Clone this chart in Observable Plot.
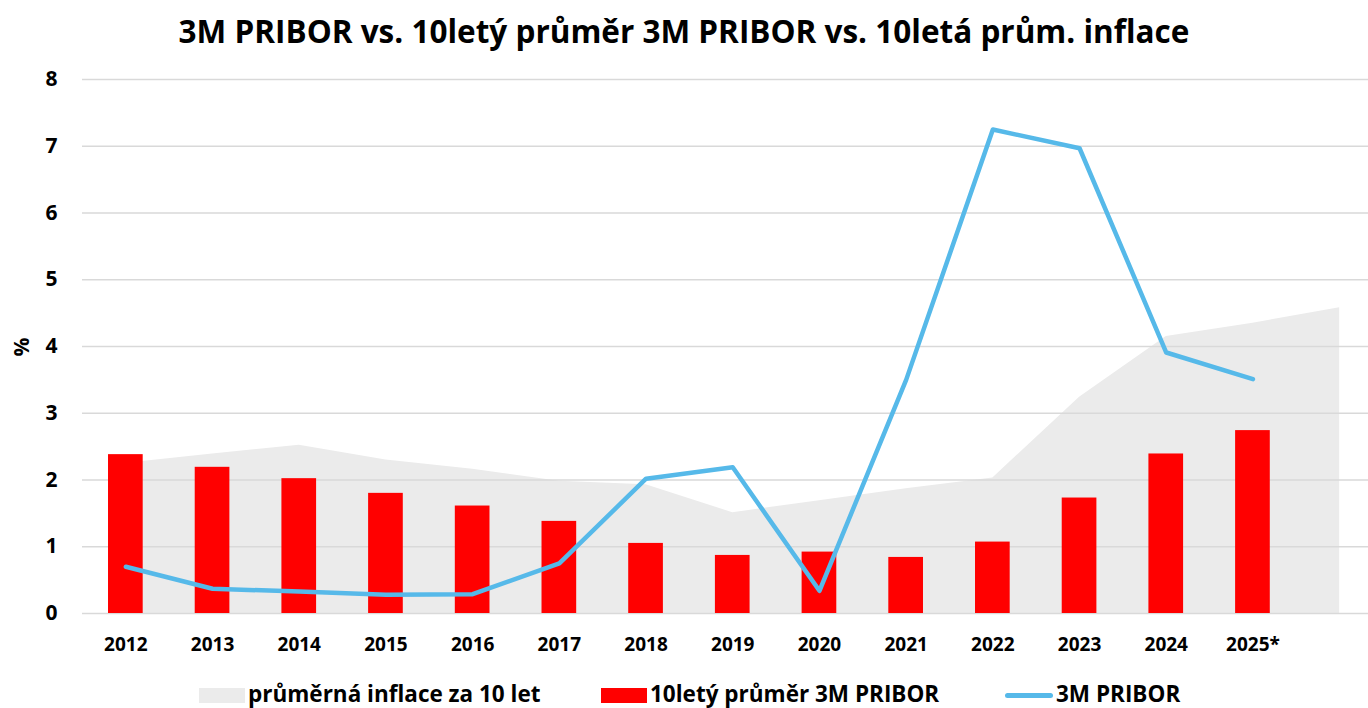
<!DOCTYPE html>
<html>
<head>
<meta charset="utf-8">
<script src="https://cdn.jsdelivr.net/npm/d3@7"></script>
<script src="https://cdn.jsdelivr.net/npm/@observablehq/plot@0.6"></script>
<style>
  html, body { margin: 0; padding: 0; background: #fff; overflow: hidden; }
  body { width: 1368px; height: 708px; position: relative; font-family: "Open Sans", "Noto Sans", sans-serif; }
  #title { position: absolute; left: 0; top: 0; width: 1368px; height: 60px; line-height: 62px; text-align: center; font-weight: 700; font-size: 31.5px; color: #000; }
  #chart { position: absolute; left: 0; top: 60px; }
  .leg { position: absolute; top: 680px; height: 27px; font-weight: 700; font-size: 22.5px; line-height: 27px; color: #000; white-space: nowrap; }
  .sw { position: absolute; }
</style>
</head>
<body>
<div id="title">3M PRIBOR vs. 10letý průměr 3M PRIBOR vs. 10letá prům. inflace</div>
<div id="chart"></div>
<div id="legend"></div>
<script>
// Categories (the last, unlabeled slot only carries the inflation area)
const categories = ["2012","2013","2014","2015","2016","2017","2018","2019","2020","2021","2022","2023","2024","2025*",""];
// průměrná inflace za 10 let (%)
const inflation10y = [2.25,2.39,2.52,2.30,2.16,1.98,1.93,1.51,1.69,1.87,2.03,3.24,4.15,4.35,4.58];
// 10letý průměr 3M PRIBOR (%)
const pribor10yAvg = [2.38,2.19,2.02,1.80,1.61,1.38,1.05,0.87,0.92,0.84,1.07,1.73,2.39,2.74];
// 3M PRIBOR (%)
const pribor3m = [0.70,0.37,0.33,0.28,0.29,0.75,2.02,2.19,0.34,3.50,7.25,6.97,3.91,3.51];
const yTicks = [0,1,2,3,4,5,6,7,8];
const legendLabels = ["průměrná inflace za 10 let", "10letý průměr 3M PRIBOR", "3M PRIBOR"];

const colors = { area: "#ebebeb", bar: "#ff0000", line: "#56b9e9", grid: "#d9d9d9" };

const areaData = categories.map((c, i) => ({cat: c, v: inflation10y[i]}));
const barData = pribor10yAvg.map((v, i) => ({cat: categories[i], v}));
const lineData = pribor3m.map((v, i) => ({cat: categories[i], v}));

const W = 1368, H = 612;
const font = '"Open Sans", "Noto Sans", sans-serif';

const chart = Plot.plot({
  width: W,
  height: H,
  marginTop: 19,
  marginBottom: H - 553,
  marginLeft: 82,
  marginRight: 0,
  style: { fontFamily: font, background: "white" },
  x: {
    type: "band",
    domain: categories,
    range: [82, 82 + 86.7 * categories.length],
    paddingInner: 0.6,
    paddingOuter: 0.3,
    align: 0.5,
    round: false
  },
  y: { domain: [0, 8] },
  marks: [
    Plot.areaY(areaData, { x: "cat", y: "v", fill: colors.area }),
    Plot.ruleY(yTicks, { stroke: colors.grid, strokeWidth: 1.5 }),
    Plot.barY(barData, { x: "cat", y: "v", fill: colors.bar }),
    Plot.lineY(lineData, { x: "cat", y: "v", stroke: colors.line, strokeWidth: 4.5, strokeLinecap: "round", strokeLinejoin: "round" }),
    Plot.axisY(yTicks, { tickSize: 0, tickPadding: 25, tickFormat: "d", fontSize: 21, fontWeight: 700, label: null, fill: "#000" }),
    Plot.axisX({ tickSize: 0, tickPadding: 24, fontSize: 19, fontWeight: 700, label: null, fill: "#000" }),
    Plot.text(["%"], { frameAnchor: "left", dx: -60, dy: 10, rotate: -90, fontSize: 21, fontWeight: 700, fill: "#000" })
  ]
});
document.getElementById("chart").appendChild(chart);

// Legend
const legend = document.getElementById("legend");
const items = [
  { label: legendLabels[0], kind: "area", sx: 199, tx: 248 },
  { label: legendLabels[1], kind: "bar", sx: 601, tx: 650 },
  { label: legendLabels[2], kind: "line", sx: 1005, tx: 1056 }
];
for (const it of items) {
  const sw = document.createElement("div");
  sw.className = "sw";
  if (it.kind === "line") {
    Object.assign(sw.style, { left: it.sx + "px", top: "693px", width: "48px", height: "5px", borderRadius: "3px", background: colors.line });
  } else {
    Object.assign(sw.style, { left: it.sx + "px", top: "688px", width: "46px", height: "15px", background: it.kind === "area" ? colors.area : colors.bar });
  }
  legend.appendChild(sw);
  const t = document.createElement("div");
  t.className = "leg";
  t.style.left = it.tx + "px";
  t.textContent = it.label;
  legend.appendChild(t);
}
</script>
</body>
</html>
